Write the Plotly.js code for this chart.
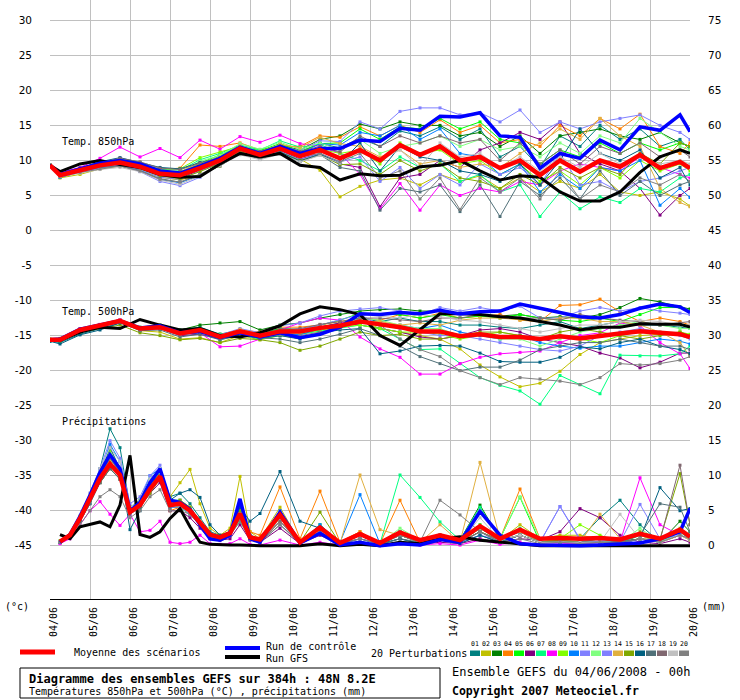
<!DOCTYPE html>
<html>
<head>
<meta charset="utf-8">
<script src="https://cdn.plot.ly/plotly-3.0.1.min.js"></script>
<style>html,body{margin:0;padding:0;background:#fff;}#chart{width:740px;height:700px;}</style>
</head>
<body>
<div id="chart"></div>
<script>
// ---- time axes (hours since 04/06/2008 00h) ----
var hoursT = [0,6,18,30,42,54,66,78,90,102,114,126,138,150,162,174,186,198,210,222,234,246,258,270,282,294,306,318,330,342,354,366,378,384];
var hoursP = [6,12,18,24,30,36,42,48,54,60,66,72,78,84,90,96,102,108,114,120,126,138,150,162,174,186,198,210,222,234,246,258,270,282,294,306,318,330,342,354,366,378,384];
var dayTicks = [0,24,48,72,96,120,144,168,192,216,240,264,288,312,336,360,384];
var dayLabels = ["04/06","05/06","06/06","07/06","08/06","09/06","10/06","11/06","12/06","13/06","14/06","15/06","16/06","17/06","18/06","19/06","20/06"];
var leftTicks = [30,25,20,15,10,5,0,-5,-10,-15,-20,-25,-30,-35,-40,-45];
var rightTicks = [75,70,65,60,55,50,45,40,35,30,25,20,15,10,5,0];
var pertNames = ["01","02","03","04","05","06","07","08","09","10","11","12","13","14","15","16","17","18","19","20"];
var pertColors = ["#008080","#c0c000","#008000","#ff8000","#00ff00","#800080","#00ff80","#ff00ff","#80ff00","#0080ff","#8080ff","#80ff80","#8080ff","#e0b040","#80a800","#006080","#507078","#806870","#c0c0c0","#808080"];

// ---- 850 hPa temperature (°C) ----
var mean850 = [9.3,7.9,8.6,9.3,9.7,9.1,8.1,7.9,8.9,10.0,11.7,10.8,11.7,10.6,11.5,10.3,11.5,10.0,12.2,10.8,12.0,10.0,10.5,8.9,10.0,7.9,10.0,8.4,10.0,9.1,10.8,8.9,9.8,8.9];
var ctrl850 = [9.3,8.0,8.8,9.6,10.0,9.5,8.5,8.2,9.2,10.3,11.9,11.0,12.0,11.0,11.7,11.7,12.9,12.7,14.6,14.3,16.3,16.2,16.8,13.5,13.3,8.9,11.0,10.3,12.9,11.5,14.8,14.3,16.5,14.1];
var gfs850 = [9.3,8.4,9.5,10.0,9.4,9.0,8.0,7.6,7.7,9.5,11.0,10.5,11.0,9.3,9.0,7.2,8.1,7.8,7.9,9.1,9.3,10.0,8.5,7.2,7.8,7.6,5.5,4.2,4.2,5.5,8.3,10.5,11.5,11.0];
var pert850 = [
 [9.3,7.6,8.3,9.6,10.2,9.6,8.4,8.0,9.2,10.4,11.8,11.0,12.0,11.2,12.4,11.8,13.2,12.0,14.2,13.5,14.8,13.0,14.5,10.5,12.0,9.0,13.5,12.0,15.0,13.0,14.5,12.0,13.0,11.5],
 [9.3,7.5,8.0,8.8,9.2,8.6,7.6,7.2,8.0,9.2,11.2,10.5,11.4,10.2,8.6,4.8,6.3,7.2,7.5,6.5,8.0,7.0,7.8,6.0,7.5,5.5,7.0,6.0,8.0,5.5,5.0,5.5,4.5,3.5],
 [9.3,7.9,8.8,9.5,9.9,9.4,8.5,8.3,9.4,10.6,12.0,11.2,12.2,11.5,13.0,13.5,15.2,14.5,15.5,15.0,15.0,13.5,14.0,12.0,13.5,11.0,13.5,14.0,14.5,13.5,13.0,14.0,12.5,12.0],
 [9.3,8.0,8.8,9.5,9.9,9.5,8.7,8.9,12.2,12.0,12.5,11.5,12.0,12.0,13.5,13.3,14.8,13.5,15.0,14.0,15.8,14.0,15.0,12.5,13.0,12.0,15.0,13.5,16.0,14.5,16.6,12.0,11.0,12.5],
 [9.2,7.8,8.6,9.4,9.8,9.2,8.3,8.2,9.6,10.8,12.0,11.4,12.4,11.3,12.4,12.5,14.5,13.0,14.8,14.5,16.0,14.5,15.5,13.0,12.5,9.5,11.5,10.5,12.5,11.0,12.5,11.5,12.5,12.0],
 [9.3,7.7,8.4,9.1,9.5,8.8,7.8,7.5,8.6,9.6,11.4,10.6,11.4,10.2,11.0,9.5,9.0,3.4,7.5,8.0,10.0,9.0,11.5,12.5,14.0,13.0,15.5,11.0,9.5,8.5,6.0,2.2,5.0,6.0],
 [9.3,8.0,8.7,9.4,10.0,9.4,8.7,8.6,10.1,11.0,12.2,11.5,12.8,11.9,12.3,11.0,10.0,8.5,10.5,9.0,9.5,7.0,8.0,5.5,6.5,2.0,5.5,3.1,4.8,4.0,6.0,5.5,7.5,8.0],
 [9.3,8.3,9.0,10.3,11.9,10.5,11.7,10.4,12.9,11.6,13.4,12.6,13.6,12.4,12.0,11.0,8.0,3.1,6.7,2.9,6.5,5.0,6.0,5.5,7.0,6.5,8.5,9.5,9.0,8.5,10.5,9.0,8.0,7.5],
 [9.3,7.9,8.6,9.5,10.1,9.5,8.8,8.8,10.4,11.2,12.0,11.1,12.1,10.9,11.6,11.0,11.5,9.5,12.5,11.0,11.5,9.5,10.0,8.0,9.5,7.0,8.5,6.5,9.0,7.5,10.0,8.5,9.5,8.5],
 [9.2,7.6,8.3,9.0,9.4,8.6,7.3,6.8,7.9,9.4,11.5,10.7,11.9,11.0,12.4,12.2,14.0,13.5,15.0,13.0,14.5,11.0,10.5,8.0,9.5,5.5,8.0,6.0,9.0,8.5,10.0,3.6,6.0,4.7],
 [9.3,7.7,8.3,8.9,9.3,8.4,7.0,6.4,7.6,9.4,11.6,10.9,12.0,11.4,12.8,12.7,15.5,14.5,17.0,17.5,17.5,16.5,16.8,15.5,17.2,14.0,15.5,14.5,15.5,16.0,16.5,15.0,14.0,13.0],
 [9.3,7.9,8.5,9.2,9.6,9.0,8.2,8.3,9.9,10.7,12.4,11.6,12.6,11.6,12.5,11.5,13.0,11.0,12.0,12.5,13.5,12.0,13.0,11.5,12.0,10.5,12.5,11.0,13.5,12.5,16.0,14.0,12.0,11.5],
 [9.3,7.8,8.4,9.0,9.3,8.7,7.6,7.3,8.5,9.6,11.3,10.5,11.3,10.1,11.0,9.8,10.5,7.0,9.0,6.0,8.0,6.5,9.5,8.0,9.0,6.5,11.0,6.5,7.0,5.5,7.0,7.5,8.5,9.0],
 [9.3,8.0,8.7,9.6,10.0,9.5,8.6,8.4,9.6,10.5,12.1,11.2,12.3,11.8,13.3,12.4,12.0,10.5,11.5,9.5,10.0,9.0,9.5,9.0,11.0,12.5,14.5,13.0,16.0,13.5,12.0,6.0,4.0,3.4],
 [9.3,7.8,8.5,9.1,9.5,8.8,7.8,7.4,8.4,9.6,11.3,10.4,11.2,10.0,10.8,9.4,9.5,8.0,10.0,8.5,9.5,7.5,7.0,6.0,8.0,6.5,9.0,7.5,9.0,8.0,11.0,9.5,12.5,12.0],
 [9.2,7.9,8.9,9.8,10.4,9.7,9.0,8.8,9.7,10.3,11.6,10.4,11.2,9.9,10.9,9.6,12.5,8.5,12.0,10.5,10.0,8.5,8.0,7.0,9.5,6.5,10.0,14.5,11.0,10.0,11.5,7.5,9.0,6.5],
 [9.3,7.8,8.4,9.0,9.2,8.5,7.4,6.9,8.0,9.2,11.0,10.2,11.0,9.8,10.8,9.0,8.5,2.9,6.0,5.5,6.5,2.7,6.5,2.0,7.0,5.0,7.5,4.5,8.5,5.0,7.0,5.0,6.5,7.0],
 [9.3,7.9,8.8,9.7,10.3,9.8,8.9,8.7,9.6,10.4,11.9,11.3,12.1,11.3,12.0,11.2,13.5,12.0,13.5,12.5,13.5,12.5,13.0,10.0,12.5,9.5,11.5,9.5,12.0,11.0,12.5,10.5,11.5,10.5],
 [9.3,7.7,8.2,8.7,9.0,8.4,7.2,6.6,7.8,9.3,10.8,10.1,10.9,9.8,10.7,9.6,11.5,10.0,11.5,9.0,12.5,10.5,11.0,9.0,10.5,8.5,10.5,9.0,11.0,9.5,10.5,9.5,10.0,9.5],
 [9.3,7.8,8.3,8.8,9.2,8.5,7.3,6.9,8.0,9.5,11.0,10.6,11.5,10.5,11.0,9.8,11.0,7.5,8.5,4.5,7.5,3.0,7.5,5.5,7.5,4.5,8.5,4.5,6.5,5.5,7.5,6.5,8.0,7.0]
];

// ---- 500 hPa temperature (°C) ----
var mean500 = [-15.6,-15.6,-14.2,-13.6,-12.9,-14.0,-13.8,-14.7,-14.2,-15.2,-14.4,-15.0,-14.4,-14.4,-13.9,-13.6,-13.0,-13.4,-13.8,-14.4,-14.4,-15.1,-14.8,-15.2,-15.2,-15.5,-15.1,-15.4,-15.0,-14.7,-14.4,-14.6,-14.8,-15.2];
var ctrl500 = [-15.6,-15.5,-14.1,-13.5,-12.9,-13.9,-13.6,-14.6,-14.4,-15.3,-14.6,-15.2,-14.6,-15.3,-14.8,-13.8,-11.9,-12.0,-11.7,-11.9,-11.4,-11.9,-11.6,-11.5,-10.5,-11.1,-11.7,-12.3,-12.5,-12.0,-11.1,-10.5,-10.9,-11.7];
var gfs500 = [-15.6,-15.7,-14.5,-13.8,-14.0,-12.7,-13.5,-14.2,-14.0,-15.0,-15.2,-14.6,-13.6,-11.9,-10.9,-11.3,-12.0,-15.0,-16.4,-14.2,-11.9,-11.9,-12.0,-12.3,-12.5,-13.0,-13.5,-14.2,-13.8,-13.8,-13.3,-13.4,-13.4,-13.8];
var pert500 = [
 [-15.8,-16.0,-14.8,-14.0,-13.2,-14.0,-13.6,-14.2,-13.8,-14.8,-14.2,-14.8,-14.0,-14.2,-13.8,-13.2,-12.5,-13.0,-12.5,-13.0,-13.0,-13.5,-13.5,-13.8,-14.0,-13.5,-13.0,-14.0,-13.5,-13.0,-13.5,-13.5,-13.8,-14.0],
 [-15.6,-15.4,-14.2,-13.6,-13.0,-14.3,-14.5,-15.5,-15.3,-16.0,-15.0,-15.6,-15.0,-15.4,-14.5,-13.8,-12.8,-14.0,-14.5,-15.0,-15.5,-16.9,-19.2,-20.9,-22.3,-21.8,-20.1,-17.7,-16.0,-15.5,-15.0,-14.8,-14.5,-15.0],
 [-15.6,-15.5,-14.0,-13.5,-12.8,-13.8,-13.5,-14.2,-13.5,-13.2,-13.0,-14.2,-13.5,-13.2,-12.5,-12.0,-11.5,-11.3,-11.2,-11.5,-11.5,-11.8,-12.0,-12.2,-12.0,-12.5,-12.3,-12.5,-12.0,-11.0,-9.7,-10.2,-10.9,-11.2],
 [-15.6,-15.6,-14.2,-13.5,-12.8,-14.0,-13.8,-14.6,-14.0,-15.0,-14.2,-14.5,-13.8,-13.8,-13.5,-13.0,-12.5,-12.8,-12.0,-12.5,-11.8,-12.5,-12.3,-12.0,-12.8,-13.0,-10.7,-10.6,-9.8,-11.6,-13.0,-12.5,-13.0,-13.5],
 [-15.5,-15.6,-14.3,-13.6,-12.9,-13.9,-13.7,-14.5,-14.2,-14.8,-14.5,-14.8,-14.0,-14.2,-13.5,-12.8,-11.8,-12.0,-12.0,-12.5,-12.0,-12.5,-12.2,-12.5,-12.0,-12.5,-12.8,-13.0,-12.5,-13.0,-12.0,-11.0,-11.0,-11.5],
 [-15.6,-15.6,-14.3,-13.7,-13.0,-14.2,-14.0,-15.0,-14.8,-15.5,-14.6,-15.2,-14.5,-14.2,-13.8,-13.2,-13.5,-14.0,-14.5,-15.2,-15.5,-15.0,-14.2,-14.0,-14.5,-15.5,-16.0,-16.5,-17.5,-18.2,-19.6,-18.8,-17.5,-17.5],
 [-15.6,-15.5,-14.1,-13.5,-13.0,-14.1,-13.9,-14.8,-14.4,-15.6,-14.9,-15.5,-15.0,-14.8,-14.4,-14.0,-13.5,-14.0,-15.5,-17.0,-16.9,-19.0,-21.0,-22.1,-22.9,-24.8,-20.7,-22.0,-23.3,-17.8,-17.9,-17.9,-17.6,-16.5],
 [-15.6,-15.5,-14.0,-13.4,-12.7,-13.9,-13.7,-14.7,-14.6,-16.6,-16.5,-15.5,-14.2,-13.2,-12.5,-12.8,-15.2,-16.9,-18.1,-20.5,-20.5,-19.0,-18.1,-17.6,-17.4,-17.2,-16.0,-15.0,-14.6,-13.2,-13.6,-16.0,-17.6,-19.7],
 [-15.6,-15.7,-14.3,-13.7,-13.0,-14.0,-13.8,-14.7,-14.4,-15.4,-14.5,-15.0,-14.7,-14.8,-14.2,-13.8,-13.5,-14.0,-14.5,-14.5,-14.8,-15.5,-15.0,-14.5,-15.0,-15.5,-15.0,-15.5,-16.0,-15.0,-14.5,-14.8,-14.5,-14.8],
 [-15.6,-15.6,-14.2,-13.6,-12.9,-14.1,-13.9,-14.9,-14.5,-15.2,-14.3,-15.1,-14.6,-14.9,-14.0,-13.6,-13.0,-13.2,-13.5,-14.0,-13.5,-14.5,-15.0,-15.5,-15.0,-16.0,-16.5,-16.8,-16.5,-16.5,-16.0,-15.5,-15.8,-16.2],
 [-15.6,-15.6,-14.2,-13.5,-12.8,-13.9,-13.7,-14.5,-14.0,-14.9,-14.0,-14.6,-13.6,-13.2,-12.2,-11.5,-11.2,-11.0,-11.5,-12.0,-11.0,-11.5,-11.0,-11.5,-10.8,-12.5,-12.5,-11.5,-11.0,-11.5,-11.0,-11.5,-11.8,-12.0],
 [-15.6,-15.6,-14.2,-13.6,-12.9,-14.0,-13.8,-14.7,-14.3,-15.3,-14.6,-15.2,-14.8,-14.6,-14.0,-13.5,-12.5,-12.8,-13.5,-14.0,-14.0,-15.0,-14.8,-15.5,-15.5,-16.5,-15.5,-14.5,-14.0,-13.5,-13.0,-13.5,-14.0,-14.0],
 [-15.7,-15.7,-14.3,-13.8,-13.1,-14.2,-14.0,-14.9,-14.5,-15.5,-14.8,-15.3,-14.5,-14.1,-13.5,-12.8,-12.0,-13.5,-14.0,-14.5,-15.0,-15.0,-15.5,-16.0,-16.5,-17.0,-17.2,-16.5,-15.0,-14.5,-14.0,-14.5,-15.0,-15.5],
 [-15.6,-15.6,-14.1,-13.5,-12.8,-13.9,-13.8,-14.6,-14.1,-15.0,-14.1,-14.8,-14.2,-14.3,-13.8,-13.5,-13.0,-13.0,-13.5,-13.2,-13.5,-12.8,-12.5,-12.5,-12.8,-13.0,-12.5,-12.5,-13.0,-13.0,-13.5,-14.5,-16.0,-18.0],
 [-15.7,-15.8,-14.5,-14.0,-13.5,-14.6,-15.0,-15.6,-15.4,-16.0,-15.4,-15.6,-16.0,-17.1,-16.5,-15.5,-14.5,-15.0,-14.8,-15.5,-15.5,-15.0,-14.5,-14.5,-15.0,-15.5,-14.5,-14.0,-14.5,-15.0,-15.5,-15.0,-14.5,-15.0],
 [-15.8,-16.2,-14.9,-14.2,-13.2,-14.1,-13.9,-14.8,-14.6,-15.2,-14.8,-15.4,-15.0,-15.5,-14.6,-14.2,-14.0,-17.6,-17.2,-16.5,-16.4,-16.5,-17.5,-18.7,-18.8,-18.8,-18.1,-16.6,-16.9,-16.0,-15.5,-16.5,-17.0,-17.6],
 [-15.6,-15.7,-14.4,-13.8,-13.1,-14.3,-14.2,-15.2,-14.8,-15.6,-15.0,-15.3,-15.5,-16.0,-15.5,-14.8,-14.0,-15.0,-16.5,-18.0,-19.0,-20.0,-19.5,-19.5,-18.5,-17.0,-16.5,-16.0,-16.0,-15.5,-16.0,-16.5,-16.5,-17.0],
 [-15.6,-15.6,-14.2,-13.6,-12.9,-14.0,-13.7,-14.6,-14.1,-15.0,-14.4,-14.8,-14.1,-14.0,-13.4,-13.0,-12.5,-12.5,-12.8,-13.0,-12.5,-12.5,-12.0,-12.2,-12.5,-12.5,-12.8,-12.0,-12.5,-12.8,-13.0,-13.5,-13.2,-13.0],
 [-15.6,-15.6,-14.2,-13.6,-12.9,-13.9,-13.8,-14.6,-14.2,-15.1,-14.3,-14.9,-14.4,-14.4,-14.0,-13.7,-12.0,-12.2,-12.5,-12.0,-12.3,-12.8,-13.0,-13.5,-14.0,-14.5,-14.0,-13.5,-13.5,-13.0,-12.8,-13.0,-13.5,-13.5],
 [-15.6,-15.6,-14.3,-13.7,-13.0,-14.2,-14.0,-14.9,-14.5,-15.4,-14.8,-15.3,-14.9,-15.0,-14.5,-14.0,-12.5,-13.5,-15.5,-17.0,-18.0,-20.0,-21.0,-22.0,-21.0,-21.2,-21.5,-22.0,-21.0,-19.0,-19.2,-19.0,-18.5,-18.0]
];

// ---- precipitation (mm per step) ----
var meanPr = [0.6,1.5,3.9,6.7,9.6,11.7,10.1,4.8,5.8,8.1,9.9,5.8,6.0,5.0,3.4,1.6,1.2,1.8,4.6,1.2,0.9,4.4,0.5,2.6,0.4,1.7,0.4,1.9,0.8,1.5,0.8,2.8,1.0,2.3,1.0,1.1,1.0,1.1,0.9,1.7,1.0,2.3,1.3];
var ctrlPr = [0.5,1.6,4.2,7.2,10.5,13.0,11.0,5.0,6.2,9.0,11.0,6.5,6.2,5.2,3.0,1.0,0.8,1.5,6.7,1.0,0.5,4.8,0.4,1.8,0.1,0.5,0.0,0.3,0.1,0.9,0.5,4.9,1.5,0.3,0.1,0.0,0.0,0.1,0.2,0.4,1.0,2.0,5.3];
var gfsPr = [1.6,1.0,2.7,3.0,3.4,2.7,5.8,12.9,1.6,1.2,2.0,3.9,5.3,2.7,0.5,0.2,0.1,0.1,0.1,0.0,0.0,0.0,0.0,0.3,0.0,0.2,0.0,0.5,0.3,1.0,1.3,0.8,0.5,0.2,0.0,0.0,0.0,0.1,0.0,0.0,0.0,0.0,0.0];
var pertPr = [
 [0.4,1.2,3.5,6.5,11.0,16.7,14.0,5.5,6.5,9.0,11.0,7.0,7.5,6.0,4.0,2.0,1.5,2.0,5.5,1.5,1.0,3.5,0.5,2.5,0.3,1.5,0.2,1.0,0.3,1.0,0.4,1.5,0.5,1.5,0.5,0.8,1.0,4.0,6.5,3.0,0.5,1.5,1.0],
 [0.5,1.5,4.0,7.0,10.0,12.0,10.5,5.0,5.5,8.0,9.5,7.0,9.0,10.9,6.0,2.5,1.5,2.5,9.9,2.0,1.0,5.5,0.5,3.0,0.5,2.0,0.3,2.0,0.5,1.5,0.5,2.5,0.8,3.0,1.0,1.5,1.5,1.0,0.5,1.0,0.8,2.0,1.5],
 [0.6,1.5,4.0,7.0,10.0,12.5,10.5,5.0,6.0,8.5,10.0,5.5,5.5,4.5,3.0,1.5,1.0,1.5,4.0,1.0,0.8,4.0,0.5,2.5,0.3,1.5,0.3,2.0,0.6,1.5,0.8,5.8,1.0,2.0,0.5,0.5,0.3,0.5,0.3,1.0,0.5,3.5,2.0],
 [0.5,1.4,3.8,6.5,9.5,11.5,10.0,5.0,6.0,8.0,10.0,5.0,5.5,5.0,3.0,1.2,1.0,1.5,4.5,2.0,1.5,8.4,1.0,7.8,0.5,2.0,0.3,6.5,0.5,1.0,0.5,2.5,1.0,8.1,1.0,0.5,0.3,0.5,0.5,1.0,0.5,1.5,1.0],
 [0.7,1.6,4.2,7.0,10.0,12.5,10.5,5.5,6.5,9.0,10.5,6.0,6.0,5.0,3.5,1.5,1.0,1.5,4.0,1.0,0.5,4.0,0.3,2.0,0.2,1.5,0.2,2.0,0.5,1.5,0.5,3.0,1.0,6.9,0.5,0.8,0.5,0.5,0.5,1.0,0.5,2.0,1.0],
 [0.6,1.5,3.8,6.5,9.0,11.0,9.5,5.0,5.5,7.5,9.0,5.0,5.0,4.0,2.5,1.0,0.8,1.0,3.0,0.8,0.5,2.5,0.3,1.5,0.2,0.5,0.1,0.5,0.2,0.5,0.3,1.0,0.5,1.0,0.8,2.0,5.3,4.0,1.5,0.5,0.3,1.0,0.5],
 [0.6,1.5,4.0,7.0,10.5,13.0,11.0,5.0,6.0,8.5,10.5,6.0,5.5,4.5,3.0,1.5,1.0,1.5,3.5,1.0,0.5,4.5,0.3,3.0,0.3,1.5,0.3,10.1,6.9,3.4,0.8,5.5,1.0,2.5,0.5,0.5,0.3,0.5,0.3,1.5,0.5,2.0,0.8],
 [0.3,1.0,3.0,5.0,6.3,4.5,2.9,4.5,2.0,2.2,3.5,0.5,0.3,0.5,1.5,0.3,0.2,0.3,1.0,0.2,0.1,0.8,0.1,0.5,0.1,0.3,0.1,0.3,0.1,0.3,0.1,0.8,0.2,0.5,0.2,0.3,0.3,0.5,0.5,9.7,3.0,1.5,1.0],
 [0.6,1.6,4.0,7.2,10.5,13.5,11.0,5.5,6.5,9.0,10.5,6.0,5.5,4.5,3.0,1.2,1.0,1.5,4.0,1.0,0.5,4.0,0.5,2.5,0.3,1.0,0.2,1.5,0.5,1.0,0.5,2.0,0.8,1.5,0.5,1.0,3.0,1.5,0.5,1.0,0.5,2.5,1.0],
 [0.6,1.5,4.2,7.0,10.5,14.5,12.0,5.5,6.5,10.0,11.0,6.5,6.5,5.0,3.5,1.5,1.0,2.0,5.5,1.5,1.0,5.0,0.5,3.0,0.5,7.3,0.3,2.0,0.5,1.5,0.5,2.5,0.8,2.0,0.5,0.5,0.5,0.5,0.3,1.0,0.5,2.0,1.0],
 [0.5,1.5,4.0,7.5,11.0,15.0,12.5,6.0,7.0,10.0,11.5,6.0,6.0,5.0,3.5,1.5,1.0,2.0,5.0,1.0,0.5,3.5,0.5,2.0,0.3,1.0,0.3,1.5,0.5,1.0,0.5,1.5,0.8,1.5,0.5,5.6,1.0,0.8,0.5,5.9,1.0,1.5,1.0],
 [0.6,1.5,4.0,7.0,10.5,13.0,11.0,5.5,6.5,9.5,10.5,6.5,6.5,5.5,3.5,1.5,1.0,1.5,4.5,1.0,0.5,4.0,0.5,2.5,0.3,1.5,0.3,2.5,0.8,1.5,0.5,2.5,1.0,7.0,1.0,1.0,0.5,0.5,0.5,2.5,0.5,2.0,1.0],
 [0.5,1.4,3.8,6.5,10.0,12.5,10.5,5.0,6.0,9.0,10.0,5.5,5.5,4.5,3.0,1.5,1.0,1.5,4.0,1.0,0.5,3.5,0.3,2.0,0.2,1.0,0.2,1.5,0.5,1.0,0.4,2.0,0.5,1.5,0.5,5.6,0.8,0.5,0.3,1.0,0.5,1.5,0.8],
 [0.6,1.5,4.0,6.8,9.5,11.5,10.0,5.0,6.0,8.0,10.0,6.0,6.5,5.5,3.5,1.5,1.0,1.5,5.0,1.0,0.5,3.5,0.5,2.5,0.3,10.1,2.3,1.5,0.5,3.0,0.5,11.9,1.0,2.0,0.5,0.5,0.5,4.5,1.0,1.5,0.5,1.5,0.8],
 [0.6,1.5,3.8,6.5,9.0,11.0,9.5,5.0,5.5,7.5,9.5,6.0,6.5,5.5,3.5,1.5,1.0,1.5,5.0,1.0,0.5,4.5,0.5,4.8,0.3,1.5,0.3,1.5,0.5,1.0,0.5,2.0,0.8,1.5,0.5,0.8,0.5,1.0,0.5,2.0,1.0,10.3,3.0],
 [0.5,1.3,3.5,6.0,10.0,14.0,11.0,2.3,5.0,9.0,10.0,6.5,7.5,8.0,6.9,3.0,1.5,2.0,5.5,3.5,4.6,10.6,3.5,2.5,0.5,1.5,0.3,1.0,0.3,1.0,0.3,1.5,0.5,1.5,0.5,0.5,0.5,0.5,0.5,1.0,8.3,5.0,5.3],
 [0.5,1.4,3.5,6.0,9.0,11.0,9.5,4.5,5.5,8.0,9.5,5.5,6.0,5.0,3.0,1.5,1.0,1.5,4.0,1.0,0.5,3.0,0.5,2.0,0.3,1.0,0.2,1.0,0.5,1.0,0.5,2.0,0.5,1.5,0.5,0.5,0.5,1.0,0.5,1.5,6.0,5.5,2.0],
 [0.6,1.5,4.0,7.0,10.0,12.5,10.5,5.0,6.0,8.5,10.0,6.0,6.0,5.0,3.0,1.5,1.0,1.5,4.0,1.0,0.5,3.5,0.5,2.5,0.3,1.5,0.3,1.5,0.5,1.5,0.5,2.0,0.8,1.5,0.5,0.5,0.5,0.5,0.5,1.0,0.8,11.5,3.0],
 [0.6,1.6,4.2,7.5,11.0,14.0,12.0,5.5,6.5,9.5,11.0,6.5,6.0,5.0,3.5,1.5,1.0,1.5,4.5,1.0,0.5,4.0,0.5,2.5,0.3,1.5,0.3,2.0,0.5,1.5,0.5,4.0,0.8,1.5,0.5,0.5,0.5,0.5,4.5,1.0,0.5,1.5,1.0],
 [0.5,1.2,3.0,5.0,7.0,8.0,7.0,4.0,5.0,7.0,8.0,5.0,5.0,4.5,3.0,1.5,1.0,1.5,3.5,1.0,0.5,3.0,0.3,2.0,0.2,1.0,0.2,1.5,0.5,6.5,4.4,2.0,0.5,1.0,0.3,0.5,0.3,0.5,0.3,1.0,0.5,1.5,1.0]
];

// ---- build traces ----
var traces = [];
function addPerts(rows, xs, yaxis) {
  for (var i = 0; i < rows.length; i++) {
    traces.push({x: xs, y: rows[i], yaxis: yaxis, type: 'scatter', mode: 'lines+markers',
      name: pertNames[i], line: {color: pertColors[i], width: 1},
      marker: {color: pertColors[i], size: 3, symbol: 'square'}, hoverinfo: 'skip'});
  }
}
addPerts(pert850, hoursT, 'y');
addPerts(pert500, hoursT, 'y');
addPerts(pertPr, hoursP, 'y2');
function addMain(xs, ys, yaxis, color, width) {
  traces.push({x: xs, y: ys, yaxis: yaxis, type: 'scatter', mode: 'lines',
    line: {color: color, width: width}, hoverinfo: 'skip'});
}
addMain(hoursT, gfs850, 'y', '#000000', 3);
addMain(hoursT, gfs500, 'y', '#000000', 3);
addMain(hoursP, gfsPr, 'y2', '#000000', 3);
addMain(hoursT, ctrl850, 'y', '#0000ff', 3.5);
addMain(hoursT, ctrl500, 'y', '#0000ff', 3.5);
addMain(hoursP, ctrlPr, 'y2', '#0000ff', 3.5);
addMain(hoursT, mean850, 'y', '#ff0000', 4.5);
addMain(hoursT, mean500, 'y', '#ff0000', 4.5);
addMain(hoursP, meanPr, 'y2', '#ff0000', 4.5);

// ---- layout helpers (pixel -> paper) ----
var PL = 50, PW = 640, PB = 599, PH = 599;
function px(x) { return (x - PL) / PW; }
function py(y) { return (PB - y) / PH; }
var mono = 'DejaVu Sans Mono, monospace';

var shapes = [];
var annotations = [];
function txt(t, x, y, size, bold, anchor) {
  annotations.push({text: bold ? '<b>' + t + '</b>' : t, xref: 'paper', yref: 'paper',
    x: px(x), y: py(y), xanchor: anchor || 'left', yanchor: 'middle', showarrow: false,
    font: {family: mono, size: size, color: '#000'}});
}
function hline(x0, x1, y, color, w) {
  shapes.push({type: 'line', xref: 'paper', yref: 'paper', x0: px(x0), x1: px(x1), y0: py(y), y1: py(y),
    line: {color: color, width: w}});
}

// panel titles (data coordinates)
annotations.push({text: 'Temp. 850hPa', xref: 'x', yref: 'y', x: 6, y: 12.7, xanchor: 'left', yanchor: 'middle', showarrow: false, font: {family: mono, size: 10, color: '#000'}});
annotations.push({text: 'Temp. 500hPa', xref: 'x', yref: 'y', x: 6, y: -11.6, xanchor: 'left', yanchor: 'middle', showarrow: false, font: {family: mono, size: 10, color: '#000'}});
annotations.push({text: 'Précipitations', xref: 'x', yref: 'y', x: 6, y: -27.3, xanchor: 'left', yanchor: 'middle', showarrow: false, font: {family: mono, size: 10, color: '#000'}});

// units
txt('(°c)', 3, 606, 10, false);
txt('(mm)', 700, 606, 10, false);

// legend
hline(20, 55, 652, '#ff0000', 5);
txt('Moyenne des scénarios', 72, 652, 10, false);
hline(225, 260, 648, '#0000ff', 4);
hline(225, 260, 657, '#000000', 4);
txt('Run de contrôle', 264, 646, 10, false);
txt('Run GFS', 264, 658, 10, false);
txt('20 Perturbations', 369, 653, 10, false);
for (var i = 0; i < pertColors.length; i++) {
  var sx = 470 + i * 11;
  shapes.push({type: 'rect', xref: 'paper', yref: 'paper', x0: px(sx), x1: px(sx + 10), y0: py(656), y1: py(650.5),
    fillcolor: pertColors[i], line: {width: 0}});
  annotations.push({text: pertNames[i], xref: 'paper', yref: 'paper', x: px(sx + 5), y: py(644),
    xanchor: 'center', yanchor: 'middle', showarrow: false, font: {family: mono, size: 6.5, color: '#000'}});
}

// caption box
shapes.push({type: 'rect', xref: 'paper', yref: 'paper', x0: px(20), x1: px(440), y0: py(698), y1: py(668),
  line: {color: '#000', width: 1}, fillcolor: 'rgba(0,0,0,0)'});
txt('Diagramme des ensembles GEFS sur 384h : 48N 8.2E', 27, 679, 12, true);
txt('Températures 850hPa et 500hPa (°C) , précipitations (mm)', 27, 691, 10, false);
txt('Ensemble GEFS du 04/06/2008 - 00h', 450, 672, 12, false);
txt('Copyright 2007 Meteociel.fr', 450, 691, 11.5, true);

var layout = {
  width: 740, height: 700,
  margin: {l: 50, r: 50, t: 0, b: 101, pad: 0},
  paper_bgcolor: '#ffffff', plot_bgcolor: '#ffffff',
  showlegend: false,
  font: {family: 'DejaVu Sans, sans-serif', size: 11, color: '#000'},
  xaxis: {range: [0, 384], tickmode: 'array', tickvals: dayTicks, ticktext: dayLabels,
    tickangle: -90, showgrid: true, gridcolor: '#c0c0c0', gridwidth: 1, zeroline: false,
    showline: true, linecolor: '#000000', linewidth: 1, ticks: '', ticklabelstandoff: 3, ticklabelshift: 4,
    tickfont: {family: mono, size: 10, color: '#000'}},
  yaxis: {range: [-52.6, 32.9], tickmode: 'array', tickvals: leftTicks, ticktext: leftTicks.map(String),
    showgrid: true, gridcolor: '#c0c0c0', gridwidth: 1, zeroline: false, showline: false,
    ticks: '', ticklabelstandoff: 17, tickfont: {family: 'DejaVu Sans, sans-serif', size: 10.5, color: '#000'}},
  yaxis2: {range: [-7.6, 77.9], overlaying: 'y', side: 'right', tickmode: 'array', tickvals: rightTicks,
    ticktext: rightTicks.map(String), showgrid: false, zeroline: false, showline: false,
    ticks: '', ticklabelstandoff: 17, tickfont: {family: 'DejaVu Sans, sans-serif', size: 10.5, color: '#000'}},
  shapes: shapes,
  annotations: annotations
};

Plotly.newPlot('chart', traces, layout, {staticPlot: true, displayModeBar: false});
</script>
</body>
</html>
